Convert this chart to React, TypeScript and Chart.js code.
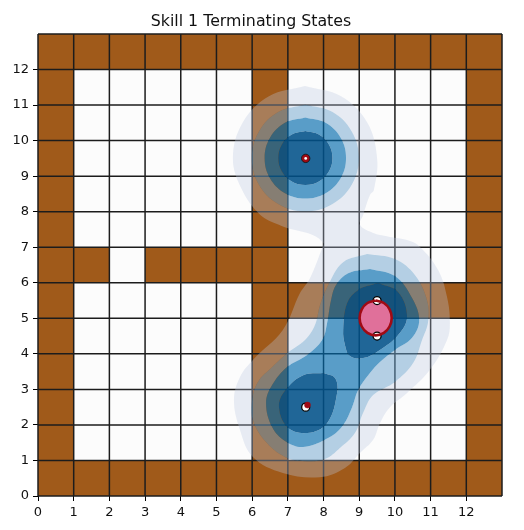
import React, { useEffect, useRef } from "react";
import { Chart, registerables } from "chart.js";

Chart.register(...registerables);

type P = [number, number];

const titleText = "Skill 1 Terminating States";
const tickValues = [0, 1, 2, 3, 4, 5, 6, 7, 8, 9, 10, 11, 12];
const gridValues = [0, 1, 2, 3, 4, 5, 6, 7, 8, 9, 10, 11, 12, 13];

// wall cells: row (lower y) -> columns
const wallRow0 = [0, 1, 2, 3, 4, 5, 6, 7, 8, 9, 10, 11, 12];
const wallRow1to4 = [0, 6, 12];
const wallRow5 = [0, 6, 7, 8, 9, 10, 11, 12];
const wallRow6 = [0, 1, 3, 4, 5, 6, 12];
const wallRow7to11 = [0, 6, 12];
const wallRow12 = [0, 1, 2, 3, 4, 5, 6, 7, 8, 9, 10, 11, 12];

const paleOuter: P[] = [
  [7.48, 11.54], [8.49, 11.25], [9.22, 10.52], [9.50, 9.51], [9.41, 8.61], [9.30, 8.47], [9.11, 7.91], [9.02, 7.63],
  [9.39, 7.40], [9.86, 7.29], [10.34, 7.20], [10.70, 7.01], [11.21, 6.36], [11.46, 5.60], [11.54, 4.87], [11.46, 4.39], [10.98, 3.55], [10.34, 2.90],
  [9.86, 2.50], [9.58, 2.05], [9.39, 1.58], [9.02, 1.21], [8.60, 0.79], [7.90, 0.53], [6.86, 0.65],
  [6.02, 1.10], [5.66, 1.86], [5.49, 2.70], [5.66, 3.35], [6.02, 3.83], [6.86, 4.67], [7.34, 5.71],
  [7.62, 6.13], [7.96, 6.98], [7.99, 7.12], [7.71, 7.34], [6.98, 7.54], [6.75, 7.63], [6.23, 7.91], [5.72, 8.61],
  [5.46, 9.51], [5.74, 10.52], [6.47, 11.25], [7.48, 11.54],
];
const band2Top: P[] = [
  [7.49, 11.01], [8.24, 10.81], [8.79, 10.26], [8.99, 9.51], [8.79, 8.76], [8.24, 8.21], [7.49, 8.01], [6.74, 8.21],
  [6.19, 8.76], [5.99, 9.51], [6.19, 10.26], [6.74, 10.81], [7.49, 11.01],
];
const band2Low: P[] = [
  [9.22, 6.81], [10.0, 6.67], [10.56, 6.22], [10.90, 5.51], [10.93, 4.90], [10.76, 4.39], [10.51, 3.74], [10.0, 3.21],
  [9.39, 2.84], [9.11, 2.34], [8.88, 1.77], [8.46, 1.35], [8.04, 1.04], [7.48, 0.98], [6.92, 1.10], [6.36, 1.55],
  [6.02, 2.14], [6.00, 2.70], [6.16, 3.21], [6.56, 3.63], [6.98, 4.02], [7.48, 4.39], [7.76, 4.81], [7.90, 5.37],
  [8.13, 5.94], [8.55, 6.58], [9.22, 6.81],
];
const band3Top: P[] = [
  [7.49, 10.65], [8.06, 10.5], [8.48, 10.08], [8.63, 9.51], [8.48, 8.94], [8.06, 8.52], [7.49, 8.37], [6.92, 8.52],
  [6.5, 8.94], [6.35, 9.51], [6.5, 10.08], [6.92, 10.5], [7.49, 10.65],
];
const band3Low: P[] = [
  [9.30, 6.39], [10.0, 6.19], [10.48, 5.57], [10.68, 4.95], [10.48, 4.45], [10.0, 4.11], [9.58, 3.77], [9.30, 3.46],
  [8.97, 2.98], [8.80, 2.50], [8.55, 2.0], [8.18, 1.66], [7.43, 1.38], [6.92, 1.55], [6.56, 1.94], [6.39, 2.62],
  [6.56, 3.12], [6.98, 3.63], [7.54, 3.97], [7.96, 4.39], [8.10, 4.87], [8.21, 5.51], [8.35, 5.94], [8.69, 6.27],
  [9.30, 6.39],
];
const band4Top: P[] = [
  [7.49, 10.27], [7.87, 10.17], [8.15, 9.89], [8.25, 9.51], [8.15, 9.13], [7.87, 8.85], [7.49, 8.75], [7.11, 8.85],
  [6.83, 9.13], [6.73, 9.51], [6.83, 9.89], [7.11, 10.17], [7.49, 10.27],
];
const band4Low: P[] = [
  [7.99, 3.46], [8.32, 3.32], [8.38, 2.90], [8.10, 2.05], [7.54, 1.77], [6.98, 1.94], [6.75, 2.56], [6.98, 3.04],
  [7.43, 3.40], [7.99, 3.46],
];
const band4Mid: P[] = [
  [9.53, 5.99], [10.09, 5.74], [10.34, 5.04], [10.09, 4.53], [9.58, 4.11], [9.11, 3.88], [8.74, 3.94], [8.60, 4.25],
  [8.55, 4.67], [8.66, 5.43], [8.97, 5.80], [9.53, 5.99],
];
const centreEllipse: P[] = [
  [9.46, 5.5], [9.69, 5.43], [9.85, 5.25], [9.91, 5.01], [9.85, 4.77], [9.69, 4.59], [9.46, 4.52], [9.23, 4.59],
  [9.07, 4.77], [9.01, 5.01], [9.07, 5.25], [9.23, 5.43], [9.46, 5.5],
];

const startPoints: P[] = [[7.5, 2.5], [9.5, 5.5], [9.5, 4.5]];
const goalPoints: P[] = [[7.5, 9.5]];
const goalNear: P[] = [[7.55, 2.56]];

const withHoles = (outer: P[], holes: P[][]): P[] => {
  const out: P[] = [...outer, outer[0]];
  for (const h of holes) {
    const rev = [...h].reverse();
    out.push(outer[0], rev[0], rev[0], ...rev, rev[0], rev[0], outer[0], outer[0]);
  }
  return out;
};
const pts = (a: P[]) => a.map(([x, y]) => ({ x, y }));
const cell = (c: number, r: number): P[] => [[c, r], [c + 1, r], [c + 1, r + 1], [c, r + 1], [c, r]];

const wallCells = (): P[] => {
  const rows: [number, number[]][] = [
    [0, wallRow0], [1, wallRow1to4], [2, wallRow1to4], [3, wallRow1to4], [4, wallRow1to4], [5, wallRow5], [6, wallRow6],
    [7, wallRow7to11], [8, wallRow7to11], [9, wallRow7to11], [10, wallRow7to11], [11, wallRow7to11], [12, wallRow12],
  ];
  const out: P[] = [];
  rows.forEach(([r, cols]) => cols.forEach((c) => out.push([c, r])));
  return out;
};

const shape = (points: P[], color: string, tension = 0.38) => ({
  data: pts(points), showLine: true, fill: "shape", backgroundColor: color, borderWidth: 0, pointRadius: 0, tension, clip: false,
});
const line = (points: P[], color: string, width: number, tension = 0) => ({
  data: pts(points), showLine: true, fill: false, borderColor: color, borderWidth: width, pointRadius: 0, tension, clip: false,
});
const marks = (points: P[], r: number, fill: string, edge: string, w: number) => ({
  data: pts(points), showLine: false, pointRadius: r, backgroundColor: fill, borderColor: edge, borderWidth: w, clip: false,
});

export default function App() {
  const ref = useRef<HTMLCanvasElement>(null);
  useEffect(() => {
    const list: any[] = [];
    list.push(shape(cell(0, 0).map(([x, y]) => [x * 13, y * 13] as P), "#fcfcfc", 0));
    wallCells().forEach(([c, r]) => list.push(shape(cell(c, r), "#a05a1a", 0)));
    gridValues.forEach((v) => {
      list.push(line([[v, 0], [v, 13]], "#1c1c1c", 1.5));
      list.push(line([[0, v], [13, v]], "#1c1c1c", 1.5));
    });
    list.push(shape(withHoles(paleOuter, [band2Top, band2Low]), "rgba(186,199,224,0.32)"));
    list.push(shape(withHoles(band2Top, [band3Top]), "rgba(107,161,203,0.5)"));
    list.push(shape(withHoles(band2Low, [band3Low]), "rgba(107,161,203,0.5)"));
    list.push(shape(withHoles(band3Top, [band4Top]), "rgba(2,106,172,0.65)"));
    list.push(shape(withHoles(band3Low, [band4Low, band4Mid]), "rgba(2,106,172,0.65)"));
    list.push(shape(band4Top, "rgba(1,81,137,0.88)"));
    list.push(shape(band4Low, "rgba(1,81,137,0.88)"));
    list.push(shape(band4Mid, "rgba(1,81,137,0.88)"));
    list.push(shape(centreEllipse, "#e0709a"));
    list.push(marks(startPoints, 4, "#ffffff", "#000000", 1.3));
    list.push(line(centreEllipse, "#a00a14", 2.6, 0.38));
    list.push(marks(goalNear, 3, "#a00a14", "#a00a14", 0.5));
    list.push(marks(goalPoints, 4.2, "#a00a14", "#111111", 0.8));
    list.push(marks(goalPoints, 1.4, "#ffffff", "#ffffff", 0));
    list.forEach((d, i) => (d.order = list.length - i));

    const font = { family: "'DejaVu Sans'", size: 13 };
    const axis = (fit: (s: any) => void) => ({
      type: "linear" as const,
      min: 0,
      max: 13,
      border: { display: false },
      grid: { drawOnChartArea: false, drawTicks: true, tickLength: 5, tickColor: "#000", tickWidth: 1 },
      ticks: { stepSize: 1, autoSkip: false, maxRotation: 0, color: "#111", font, padding: 4 },
      afterBuildTicks: (s: any) => {
        s.ticks = tickValues.map((value) => ({ value }));
      },
      afterFit: fit,
    });

    const chart = new Chart(ref.current!, {
      type: "scatter",
      data: { datasets: list },
      options: {
        animation: false,
        responsive: false,
        layout: { padding: { left: 0, right: 22, top: 0, bottom: 0 } },
        plugins: {
          legend: { display: false },
          tooltip: { enabled: false },
          title: {
            display: true,
            text: titleText,
            color: "#111",
            fullSize: true,
            font: { family: "'DejaVu Sans'", size: 15.8, weight: "normal" },
            padding: { top: 12, bottom: 3.04 },
          },
        },
        scales: {
          x: axis((s) => { s.height = 34; }),
          y: axis((s) => { s.width = 38; }),
        },
      },
    } as any);
    return () => chart.destroy();
  }, []);
  return (
    <div style={{ position: "fixed", left: 0, top: 0, width: 524, height: 530, background: "#fff" }}>
      <canvas ref={ref} width={524} height={530} style={{ display: "block" }} />
    </div>
  );
}
